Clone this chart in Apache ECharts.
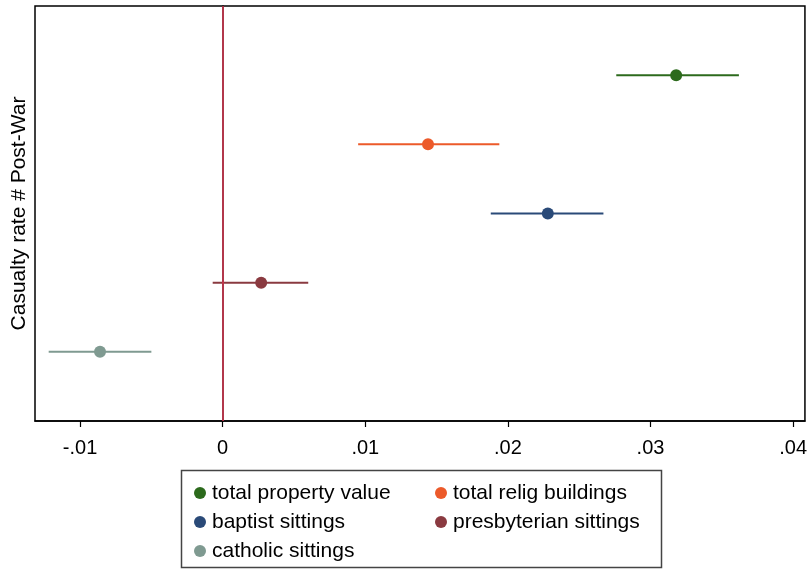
<!DOCTYPE html>
<html>
<head>
<meta charset="utf-8">
<script src="https://cdn.jsdelivr.net/npm/echarts@6/dist/echarts.min.js"></script>
<style>
  html, body { margin: 0; padding: 0; background: #fff; }
  #chart { width: 810px; height: 572px; }
</style>
</head>
<body>
<div id="chart"></div>
<script>
// Coefficient estimates with confidence intervals (interaction term)
const outcomes = ['total property value', 'total relig buildings', 'baptist sittings', 'presbyterian sittings', 'catholic sittings'];
const estimates = [0.0318, 0.0144, 0.0228, 0.0027, -0.0086];
const lowerCI = [0.0276, 0.0095, 0.0188, -0.0007, -0.0122];
const upperCI = [0.0362, 0.0194, 0.0267, 0.0060, -0.0050];
const rowPos = [5, 4, 3, 2, 1];
const colors = ['#2c6a1c', '#ec5a2a', '#2a4a78', '#8a3a40', '#7f9a91'];
const xTicks = [-0.01, 0, 0.01, 0.02, 0.03, 0.04];
const refLineX = 0;

const FONT = 'Liberation Sans, Arial, Helvetica, sans-serif';

function fmtTick(v) {
  if (Math.abs(v) < 1e-12) return '0';
  return v.toFixed(2).replace('0.', '.');
}

const series = outcomes.map((name, i) => ({
  name: name,
  type: 'custom',
  itemStyle: { color: colors[i] },
  data: [[estimates[i], lowerCI[i], upperCI[i], rowPos[i]]],
  encode: { x: [0, 1, 2], y: 3 },
  renderItem: function (params, api) {
    const y = api.value(3);
    const c = api.coord([api.value(0), y]);
    const lo = api.coord([api.value(1), y]);
    const hi = api.coord([api.value(2), y]);
    const col = api.visual('color');
    return {
      type: 'group',
      children: [
        { type: 'line', shape: { x1: lo[0], y1: lo[1], x2: hi[0], y2: hi[1] },
          style: { stroke: col, lineWidth: 2 } },
        { type: 'circle', shape: { cx: c[0], cy: c[1], r: 6 },
          style: { fill: col } }
      ]
    };
  },
  z: 3
}));

// vertical reference line at zero, on its own empty series
series.unshift({
  name: 'zero',
  type: 'line',
  data: [],
  itemStyle: { color: '#d8344f' },
  lineStyle: { color: '#d8344f' },
  markLine: {
    silent: true,
    symbol: 'none',
    label: { show: false },
    lineStyle: { color: '#d8344f', width: 1.5, type: 'solid', opacity: 1 },
    data: [{ xAxis: refLineX }]
  },
  z: 2
});

const legendText = { fontFamily: FONT, fontSize: 21, color: '#000', lineHeight: 22, padding: [0, 0, 0, 1] };

const option = {
  animation: false,
  backgroundColor: '#fff',
  grid: {
    left: 35, right: 5, top: 6, bottom: 151,
    show: true, borderColor: '#000', borderWidth: 1.5, backgroundColor: '#fff'
  },
  xAxis: {
    type: 'value',
    min: -0.01316,
    max: 0.04083,
    splitLine: { show: false },
    axisLine: { show: true, onZero: false, lineStyle: { color: '#000', width: 1.5 } },
    axisTick: { show: true, customValues: xTicks, length: 6, lineStyle: { color: '#000', width: 1.2 } },
    axisLabel: {
      customValues: xTicks,
      formatter: fmtTick,
      fontFamily: FONT, fontSize: 20, color: '#000', margin: 17
    }
  },
  yAxis: {
    type: 'value',
    min: 0,
    max: 6,
    name: 'Casualty rate # Post-War',
    nameLocation: 'middle',
    nameGap: 5,
    nameTextStyle: { fontFamily: FONT, fontSize: 21, color: '#000' },
    splitLine: { show: false },
    axisLine: { show: true, lineStyle: { color: '#000', width: 1.5 } },
    axisTick: { show: false },
    axisLabel: { show: false }
  },
  legend: [
    {
      data: [outcomes[0], outcomes[2], outcomes[4]].map(n => ({ name: n, icon: 'circle' })),
      orient: 'vertical',
      left: 189, top: 477,
      itemWidth: 12, itemHeight: 12, itemGap: 7,
      textStyle: legendText,
      selectedMode: false
    },
    {
      data: [outcomes[1], outcomes[3]].map(n => ({ name: n, icon: 'circle' })),
      orient: 'vertical',
      left: 430, top: 477,
      itemWidth: 12, itemHeight: 12, itemGap: 7,
      textStyle: legendText,
      selectedMode: false
    }
  ],
  graphic: [
    {
      type: 'rect',
      left: 179, top: 468,
      shape: { width: 480, height: 97 },
      style: { fill: 'none', stroke: '#444', lineWidth: 1.5 },
      silent: true
    }
  ],
  series: series
};

const chart = echarts.init(document.getElementById('chart'), null, { renderer: 'canvas' });
chart.setOption(option);
</script>
</body>
</html>
